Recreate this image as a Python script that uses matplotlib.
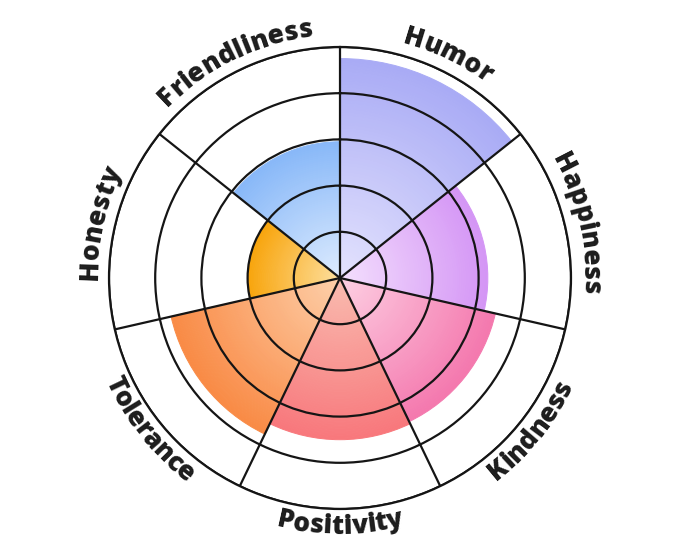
import numpy as np
import matplotlib
matplotlib.use("Agg")
import matplotlib.pyplot as plt
from matplotlib.colors import to_rgb
from matplotlib.font_manager import FontProperties
from matplotlib.textpath import TextToPath

categories = ['Humor', 'Happiness', 'Kindness', 'Positivity', 'Tolerance', 'Honesty', 'Friendliness']
values = [4.75, 3.2, 3.45, 3.5, 3.75, 2.0, 2.95]
inner_colors = ['#e4e3fd', '#f4e0fd', '#fdd0e3', '#f9bcb0', '#fdd0ab', '#fde0a0', '#deecfe']
outer_colors = ['#a9abf5', '#d495f5', '#f478ae', '#f8787c', '#f98a45', '#f8a50c', '#88b8f8']
rings = [1, 2, 3, 4, 5]

W, H, DPI = 680, 557, 100
fig = plt.figure(figsize=(W / DPI, H / DPI), dpi=DPI)
R_PX = 231
cx, cy = 340, 278
ax = fig.add_axes([(cx - R_PX) / W, (H - cy - R_PX) / H, 2 * R_PX / W, 2 * R_PX / H],
                  projection='polar')
ax.set_theta_zero_location('N')
ax.set_theta_direction(-1)

n = len(categories)
width = 2 * np.pi / n
starts = np.arange(n) * width
NS = 70
for i in range(n):
    c0 = np.array(to_rgb(inner_colors[i]))
    c1 = np.array(to_rgb(outer_colors[i]))
    edges = np.linspace(0, values[i], NS + 1)
    for k in range(NS):
        t = (k + 0.5) / NS
        col = c0 + (c1 - c0) * t
        ax.bar(starts[i], edges[k + 1] - edges[k], width=width, bottom=edges[k],
               align='edge', color=col, edgecolor=col, linewidth=0.7, zorder=1)

ax.set_ylim(0, rings[-1])
ax.set_yticks(rings)
ax.set_xticks(starts)
ax.set_yticklabels([])
ax.set_xticklabels([])
ax.tick_params(length=0)
ax.set_axisbelow(False)
ax.grid(True, color='#151515', linewidth=1.6)
ax.spines['polar'].set_color('#151515')
ax.spines['polar'].set_linewidth(1.6)
ax.set_facecolor('white')

# curved labels
fp = FontProperties(family=['Open Sans', 'DejaVu Sans'], weight='heavy', size=19)
ttp = TextToPath()
px_per_pt = DPI / 72.0


def text_w(s):
    if not s:
        return 0.0
    w, h, d = ttp.get_text_width_height_descent(s, fp, ismath=False)
    return w * px_per_pt


unit = R_PX / rings[-1]
for i, lab in enumerate(categories):
    phi_c = starts[i] + width / 2  # compass angle (clockwise from north)
    top_half = np.cos(phi_c) > 0
    r_base_px = 243 if top_half else 256
    total = text_w(lab)
    for j, ch in enumerate(lab):
        a = text_w(lab[:j])
        b = text_w(lab[:j + 1])
        off = (a + b) / 2 - total / 2
        dphi = off / r_base_px
        phi = phi_c + dphi if top_half else phi_c - dphi
        rot = -np.degrees(phi) if top_half else 180 - np.degrees(phi)
        ax.text(phi, r_base_px / unit, ch, fontproperties=fp, color='#1c1c1c',
                rotation=rot, rotation_mode='anchor', ha='center',
                va='baseline', clip_on=False)

fig.savefig('out.png', dpi=DPI, facecolor='white')
